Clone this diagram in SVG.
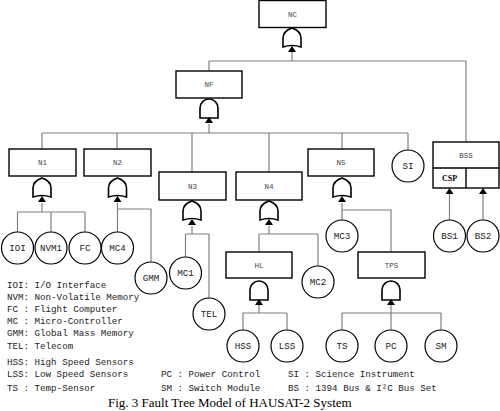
<svg xmlns="http://www.w3.org/2000/svg" xmlns:xlink="http://www.w3.org/1999/xlink" width="500" height="411" viewBox="0 0 500 411">
<style>
.box{fill:#fff;stroke:#000;stroke-width:1.4}
.ev{fill:#fff;stroke:#000;stroke-width:1.2}
.gate{fill:#fff;stroke:#000;stroke-width:1.6}
.arr{fill:#000}
.con{fill:none;stroke:#808080;stroke-width:1.2}
.bl{font-family:"Liberation Mono","DejaVu Sans Mono",monospace;font-size:7.5px;fill:#444;text-anchor:middle}
.cl{font-family:"Liberation Mono","DejaVu Sans Mono",monospace;font-size:9.2px;fill:#222;text-anchor:middle}
.lg{font-family:"Liberation Mono","DejaVu Sans Mono",monospace;font-size:9.2px;fill:#222}
.cap{font-family:"Liberation Serif","Times New Roman",serif;font-size:13px;fill:#000}
</style>
<defs>
<path id="or" class="gate" d="M-9,19 L-9,10 Q-9,3 0,0 Q9,3 9,10 L9,19 Q0,16 -9,19 Z"/>
<path id="and" class="gate" d="M-9,19 L-9,9 A9,9 0 0 1 9,9 L9,19 Z"/>
<path id="ar" class="arr" d="M0,18 L-4,24 L4,24 Z"/>
</defs>
<rect width="500" height="411" fill="#fff"/>
<g id="connectors">
<path class="con" d="M292,52V61 M209,61H466 M209,61V71 M466,61V142"/>
<path class="con" d="M209,124V133 M42,133H408 M42,133V149 M117,133V149 M192,133V172 M269,133V172 M342,133V149 M408,133V150"/>
<path class="con" d="M42,203V212 M17.5,212H85 M17.5,212V232 M51,212V232 M85,212V232"/>
<path class="con" d="M117.5,203V209 H151 V262 M117.5,209V232"/>
<path class="con" d="M192,226V234 M185.5,234H209 M185.5,234V257 M209,234V298"/>
<path class="con" d="M269,226V234 M259,234H318 M259,234V252 M318,234V266"/>
<path class="con" d="M342,203V210 H391 V252 M342,210V220"/>
<path class="con" d="M259,305V313 M243,313H287 M243,313V330 M287,313V330"/>
<path class="con" d="M391,305V313 M342,313H441 M342,313V330 M391,313V330 M441,313V330"/>
<path class="con" d="M449.5,220V193 M483,220V193"/>
<path class="arr" d="M449.5,188 L445.5,194 L453.5,194 Z M483,188 L479,194 L487,194 Z"/>
</g>
<g id="NC"><rect class="box" x="259" y="0.5" width="67" height="27"/><text class="bl" x="292.5" y="16.5">NC</text><use xlink:href="#or" x="292" y="28"/><use xlink:href="#ar" x="292" y="28"/></g>
<g id="NF"><rect class="box" x="176" y="71" width="66" height="27"/><text class="bl" x="209" y="87">NF</text><use xlink:href="#and" x="209" y="99"/><use xlink:href="#ar" x="209" y="99"/></g>
<g id="N1"><rect class="box" x="9" y="149" width="67" height="27"/><text class="bl" x="42.5" y="165">N1</text><use xlink:href="#or" x="42" y="178"/><use xlink:href="#ar" x="42" y="178"/></g>
<g id="N2"><rect class="box" x="84" y="149" width="67" height="27"/><text class="bl" x="117.5" y="165">N2</text><use xlink:href="#or" x="117.5" y="178"/><use xlink:href="#ar" x="117.5" y="178"/></g>
<g id="N3"><rect class="box" x="159" y="172" width="67" height="28"/><text class="bl" x="192.5" y="189">N3</text><use xlink:href="#or" x="192" y="201"/><use xlink:href="#ar" x="192" y="201"/></g>
<g id="N4"><rect class="box" x="236" y="172" width="66" height="28"/><text class="bl" x="269" y="189">N4</text><use xlink:href="#or" x="269" y="201"/><use xlink:href="#ar" x="269" y="201"/></g>
<g id="N5"><rect class="box" x="308" y="149" width="66" height="27"/><text class="bl" x="341" y="165">N5</text><use xlink:href="#or" x="342" y="178"/><use xlink:href="#ar" x="342" y="178"/></g>
<g id="HL"><rect class="box" x="226" y="252" width="66" height="26"/><text class="bl" x="259" y="268">HL</text><use xlink:href="#and" x="259" y="281"/><use xlink:href="#ar" x="259" y="281"/></g>
<g id="TPS"><rect class="box" x="358" y="252" width="67" height="26"/><text class="bl" x="391.5" y="268">TPS</text><use xlink:href="#and" x="391" y="281"/><use xlink:href="#ar" x="391" y="281"/></g>
<g id="BSS"><rect class="box" x="433" y="142" width="66" height="46"/><path fill="none" stroke="#000" stroke-width="1.4" d="M433,168H499 M466,168V188"/><text class="bl" x="466" y="158">BSS</text><text x="449.5" y="181" font-family="'Liberation Serif',serif" font-weight="bold" font-size="8px" text-anchor="middle">CSP</text></g>
<g id="SI"><circle class="ev" cx="408" cy="166" r="16"/><text class="cl" x="408" y="169.3">SI</text></g>
<g id="IOI"><circle class="ev" cx="17.5" cy="248" r="16"/><text class="cl" x="17.5" y="251.3">IOI</text></g>
<g id="NVM1"><circle class="ev" cx="51" cy="248" r="16"/><text class="cl" x="51" y="251.3">NVM1</text></g>
<g id="FC"><circle class="ev" cx="85" cy="248" r="16"/><text class="cl" x="85" y="251.3">FC</text></g>
<g id="MC4"><circle class="ev" cx="117.5" cy="248" r="16"/><text class="cl" x="117.5" y="251.3">MC4</text></g>
<g id="GMM"><circle class="ev" cx="151" cy="278" r="16"/><text class="cl" x="151" y="281.3">GMM</text></g>
<g id="MC1"><circle class="ev" cx="185.5" cy="273" r="16"/><text class="cl" x="185.5" y="276.3">MC1</text></g>
<g id="TEL"><circle class="ev" cx="209" cy="314" r="16"/><text class="cl" x="209" y="317.3">TEL</text></g>
<g id="MC2"><circle class="ev" cx="318" cy="282" r="16"/><text class="cl" x="318" y="285.3">MC2</text></g>
<g id="MC3"><circle class="ev" cx="342" cy="236" r="16"/><text class="cl" x="342" y="239.3">MC3</text></g>
<g id="HSS"><circle class="ev" cx="243" cy="346" r="16"/><text class="cl" x="243" y="349.3">HSS</text></g>
<g id="LSS"><circle class="ev" cx="287" cy="346" r="16"/><text class="cl" x="287" y="349.3">LSS</text></g>
<g id="TS"><circle class="ev" cx="342" cy="346" r="16"/><text class="cl" x="342" y="349.3">TS</text></g>
<g id="PC"><circle class="ev" cx="391" cy="346" r="16"/><text class="cl" x="391" y="349.3">PC</text></g>
<g id="SM"><circle class="ev" cx="441" cy="346" r="16"/><text class="cl" x="441" y="349.3">SM</text></g>
<g id="BS1"><circle class="ev" cx="449.5" cy="236" r="16"/><text class="cl" x="449.5" y="239.3">BS1</text></g>
<g id="BS2"><circle class="ev" cx="483" cy="236" r="16"/><text class="cl" x="483" y="239.3">BS2</text></g>
<g id="legend">
<text class="lg" x="7" y="287.5">IOI: I/O Interface</text>
<text class="lg" x="7" y="299.7">NVM: Non-Volatile Memory</text>
<text class="lg" x="7" y="311.9">FC : Flight Computer</text>
<text class="lg" x="7" y="324.1">MC : Micro-Controller</text>
<text class="lg" x="7" y="336.3">GMM: Global Mass Memory</text>
<text class="lg" x="7" y="348.5">TEL: Telecom</text>
<text class="lg" x="7" y="365">HSS: High Speed Sensors</text>
<text class="lg" x="7" y="377">LSS: Low Speed Sensors</text>
<text class="lg" x="7" y="390.5">TS : Temp-Sensor</text>
<text class="lg" x="161" y="377">PC : Power Control</text>
<text class="lg" x="161" y="390.5">SM : Switch Module</text>
<text class="lg" x="288" y="377">SI : Science Instrument</text>
<text class="lg" x="288" y="390.5">BS : 1394 Bus &amp; I²C Bus Set</text>
</g>
<text class="cap" x="108" y="407">Fig. 3  Fault Tree Model of HAUSAT-2 System</text>
</svg>
